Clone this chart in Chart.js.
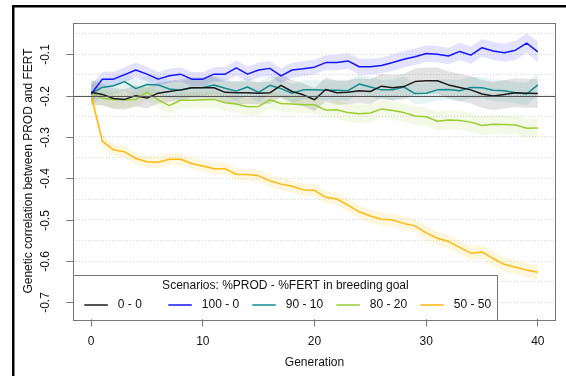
<!DOCTYPE html>
<html><head><meta charset="utf-8">
<script src="https://cdn.jsdelivr.net/npm/chart.js@4.4.1/dist/chart.umd.min.js"></script>
<style>html,body{margin:0;padding:0;background:#fff;}canvas{display:block;}</style>
</head><body>
<canvas id="c" width="566" height="376"></canvas>
<script>
const generations = [0,1,2,3,4,5,6,7,8,9,10,11,12,13,14,15,16,17,18,19,20,21,22,23,24,25,26,27,28,29,30,31,32,33,34,35,36,37,38,39,40];
const scenarioLabels = ['0 - 0','100 - 0','90 - 10','80 - 20','50 - 50'];
const legendTitle = 'Scenarios: %PROD - %FERT in breeding goal';
const xTickValues = [0,10,20,30,40];
const yTickValues = [-0.7,-0.6,-0.5,-0.4,-0.3,-0.2,-0.1];
const yGridValues = [-0.7,-0.65,-0.6,-0.55,-0.5,-0.45,-0.4,-0.35,-0.3,-0.25,-0.2,-0.15,-0.1,-0.05];
const referenceLine = -0.2;

// mean genetic correlation per generation
const corr_0_0 = [-0.192,-0.197,-0.207,-0.209,-0.200,-0.206,-0.194,-0.190,-0.186,-0.181,-0.181,-0.181,-0.192,-0.193,-0.193,-0.194,-0.193,-0.175,-0.190,-0.198,-0.210,-0.185,-0.193,-0.192,-0.188,-0.190,-0.177,-0.181,-0.178,-0.166,-0.164,-0.164,-0.174,-0.180,-0.186,-0.196,-0.201,-0.197,-0.193,-0.194,-0.195];
const corr_100_0 = [-0.196,-0.160,-0.160,-0.149,-0.138,-0.148,-0.160,-0.152,-0.148,-0.160,-0.160,-0.148,-0.148,-0.133,-0.148,-0.138,-0.134,-0.152,-0.138,-0.135,-0.131,-0.120,-0.120,-0.116,-0.130,-0.130,-0.127,-0.120,-0.112,-0.106,-0.098,-0.100,-0.104,-0.093,-0.102,-0.084,-0.092,-0.096,-0.090,-0.073,-0.094];
const corr_90_10 = [-0.194,-0.180,-0.176,-0.166,-0.183,-0.173,-0.174,-0.184,-0.187,-0.181,-0.180,-0.174,-0.182,-0.189,-0.179,-0.192,-0.175,-0.183,-0.194,-0.186,-0.186,-0.187,-0.187,-0.188,-0.172,-0.179,-0.186,-0.186,-0.179,-0.195,-0.194,-0.186,-0.185,-0.188,-0.180,-0.181,-0.187,-0.188,-0.193,-0.196,-0.174];
const corr_80_20 = [-0.195,-0.206,-0.209,-0.210,-0.209,-0.192,-0.210,-0.224,-0.211,-0.211,-0.210,-0.209,-0.217,-0.220,-0.227,-0.226,-0.210,-0.219,-0.220,-0.222,-0.222,-0.235,-0.234,-0.241,-0.244,-0.242,-0.232,-0.236,-0.241,-0.249,-0.251,-0.262,-0.259,-0.260,-0.264,-0.272,-0.269,-0.270,-0.271,-0.279,-0.278];
const corr_50_50 = [-0.200,-0.310,-0.331,-0.336,-0.352,-0.360,-0.361,-0.354,-0.354,-0.364,-0.370,-0.377,-0.377,-0.390,-0.391,-0.394,-0.406,-0.414,-0.419,-0.428,-0.429,-0.446,-0.450,-0.465,-0.481,-0.491,-0.499,-0.501,-0.509,-0.515,-0.532,-0.545,-0.553,-0.567,-0.581,-0.578,-0.594,-0.608,-0.615,-0.622,-0.627];

// half-width of the shaded confidence band per generation
const band_0_0 = [0.030,0.026,0.025,0.025,0.025,0.025,0.025,0.025,0.026,0.026,0.026,0.026,0.026,0.027,0.027,0.027,0.027,0.028,0.028,0.028,0.028,0.029,0.029,0.029,0.030,0.030,0.030,0.031,0.031,0.032,0.032,0.032,0.033,0.033,0.033,0.034,0.034,0.034,0.035,0.035,0.035];
const band_100_0 = [0.022,0.018,0.018,0.018,0.018,0.018,0.017,0.017,0.017,0.017,0.017,0.017,0.018,0.018,0.018,0.018,0.018,0.018,0.018,0.018,0.018,0.018,0.019,0.019,0.019,0.019,0.019,0.020,0.020,0.020,0.020,0.020,0.020,0.021,0.021,0.021,0.022,0.022,0.023,0.024,0.025];
const band_90_10 = [0.028,0.022,0.022,0.022,0.022,0.022,0.022,0.022,0.022,0.022,0.022,0.022,0.022,0.023,0.023,0.023,0.023,0.023,0.023,0.023,0.023,0.024,0.024,0.024,0.024,0.024,0.024,0.025,0.025,0.025,0.025,0.025,0.025,0.026,0.026,0.026,0.026,0.026,0.026,0.027,0.027];
const band_80_20 = [0.026,0.020,0.020,0.020,0.020,0.020,0.020,0.020,0.020,0.020,0.020,0.020,0.020,0.021,0.021,0.021,0.021,0.021,0.021,0.021,0.021,0.021,0.022,0.022,0.022,0.022,0.022,0.022,0.022,0.022,0.022,0.023,0.023,0.023,0.023,0.023,0.023,0.023,0.023,0.023,0.023];
const band_50_50 = [0.020,0.014,0.014,0.014,0.014,0.014,0.014,0.014,0.014,0.014,0.014,0.014,0.014,0.014,0.014,0.014,0.015,0.015,0.015,0.015,0.015,0.015,0.015,0.015,0.015,0.015,0.016,0.016,0.016,0.016,0.016,0.016,0.016,0.016,0.016,0.017,0.017,0.017,0.017,0.017,0.017];

const seriesValues = [corr_0_0, corr_100_0, corr_90_10, corr_80_20, corr_50_50];
const seriesBands = [band_0_0, band_100_0, band_90_10, band_80_20, band_50_50];
const lineColors = ['#1a1a1a','#1414ff','#0f8c8c','#9acd32','#ffb90f'];
const bandColors = ['rgba(0,0,0,0.11)','rgba(40,40,255,0.13)','rgba(0,140,140,0.10)','rgba(154,205,50,0.12)','rgba(255,190,20,0.14)'];

const FONT = '"Liberation Sans", Arial, sans-serif';
const datasets = [];
seriesValues.forEach((vals, s) => {
  const band = seriesBands[s];
  datasets.push({label: scenarioLabels[s]+' upper', data: generations.map((g,i)=>({x:g,y:vals[i]+band[i]})),
    borderWidth:0, pointRadius:0, fill:false, order:10});
  datasets.push({label: scenarioLabels[s]+' lower', data: generations.map((g,i)=>({x:g,y:vals[i]-band[i]})),
    borderWidth:0, pointRadius:0, fill:'-1', backgroundColor:bandColors[s], order:10});
});
seriesValues.forEach((vals, s) => {
  datasets.push({label: scenarioLabels[s], data: generations.map((g,i)=>({x:g,y:vals[i]})),
    borderColor: lineColors[s], borderWidth:1.5, pointRadius:0, fill:false, order:1, tension:0});
});

const decor = {
  id:'decor',
  beforeDraw(chart){
    const ctx = chart.ctx;
    ctx.save();
    ctx.fillStyle = '#fff';
    ctx.fillRect(0,0,chart.width,chart.height);
    ctx.restore();
  },
  afterDatasetsDraw(chart){
    const ctx = chart.ctx, a = chart.chartArea, ys = chart.scales.y, xs = chart.scales.x;
    ctx.save();
    // reference line
    const yr = ys.getPixelForValue(referenceLine);
    ctx.strokeStyle = '#555'; ctx.lineWidth = 1;
    ctx.beginPath(); ctx.moveTo(a.left, Math.round(yr)+0.5); ctx.lineTo(a.right, Math.round(yr)+0.5); ctx.stroke();
    // plot box
    ctx.strokeStyle = '#777'; ctx.lineWidth = 1;
    ctx.strokeRect(Math.round(a.left)+0.5, Math.round(a.top)+0.5, Math.round(a.right-a.left), Math.round(a.bottom-a.top));
    // y ticks + rotated labels
    ctx.fillStyle = '#111'; ctx.font = '12px '+FONT;
    ctx.textAlign = 'center'; ctx.textBaseline = 'middle';
    yTickValues.forEach(v => {
      const y = Math.round(ys.getPixelForValue(v))+0.5;
      ctx.strokeStyle = '#777';
      ctx.beginPath(); ctx.moveTo(a.left-7, y); ctx.lineTo(a.left, y); ctx.stroke();
      ctx.save(); ctx.translate(46, y); ctx.rotate(-Math.PI/2);
      ctx.fillText(v.toFixed(1), 0, 0); ctx.restore();
    });
    // y title
    ctx.save(); ctx.translate(29, (a.top+a.bottom)/2); ctx.rotate(-Math.PI/2);
    ctx.fillText('Genetic correlation between PROD and FERT', 0, 0); ctx.restore();
    // x title
    ctx.fillText('Generation', (xs.getPixelForValue(0)+xs.getPixelForValue(40))/2, 363);
    // legend
    const lx = a.left, lt = 274.5, lr = 497.5, lb = a.bottom;
    ctx.fillStyle = '#fff';
    ctx.fillRect(lx, lt, lr-lx, lb-lt);
    ctx.strokeStyle = '#777'; ctx.lineWidth = 1;
    ctx.strokeRect(Math.round(lx)+0.5, Math.round(lt)+0.5, Math.round(lr-lx), Math.round(lb-lt));
    ctx.fillStyle = '#111';
    ctx.fillText(legendTitle, (lx+lr)/2, 286);
    ctx.textAlign = 'left';
    scenarioLabels.forEach((lab, s) => {
      const x0 = 84.3 + 84*s;
      ctx.strokeStyle = lineColors[s]; ctx.lineWidth = 1.5;
      ctx.beginPath(); ctx.moveTo(x0, 305); ctx.lineTo(x0+23.5, 305); ctx.stroke();
      ctx.fillStyle = '#111';
      ctx.fillText(lab, x0+33.5, 305);
    });
    // outer frame
    ctx.fillStyle = '#000';
    ctx.fillRect(12, 5, chart.width-12, 2.5);
    ctx.fillRect(12, 5, 2.5, chart.height-5);
    ctx.restore();
  }
};

new Chart(document.getElementById('c'), {
  type:'line',
  data:{datasets},
  options:{
    responsive:false, animation:false, devicePixelRatio:1,
    layout:{padding:{left:0, top:22.7, right:10.3, bottom:0}},
    plugins:{legend:{display:false}, tooltip:{enabled:false}},
    elements:{line:{borderJoinStyle:'round'}},
    scales:{
      x:{type:'linear', min:-1.6, max:41.6,
        afterBuildTicks(scale){ scale.ticks = xTickValues.map(v=>({value:v})); },
        afterFit(scale){ scale.height = 56.7; },
        grid:{display:true, drawOnChartArea:false, drawTicks:true, tickLength:7, color:'#777'},
        border:{display:false},
        ticks:{font:{family:FONT, size:12}, color:'#111', padding:8, maxRotation:0, autoSkip:false, callback:v=>String(v)}
      },
      y:{type:'linear', min:-0.741, max:-0.0235,
        afterBuildTicks(scale){ scale.ticks = yGridValues.map(v=>({value:v})); },
        afterFit(scale){ scale.width = 73.3; },
        grid:{display:true, drawTicks:false, color:'#d6d6d6', lineWidth:1},
        border:{display:false, dash:[1,2]},
        ticks:{display:false}
      }
    }
  },
  plugins:[decor]
});
</script>
</body></html>
